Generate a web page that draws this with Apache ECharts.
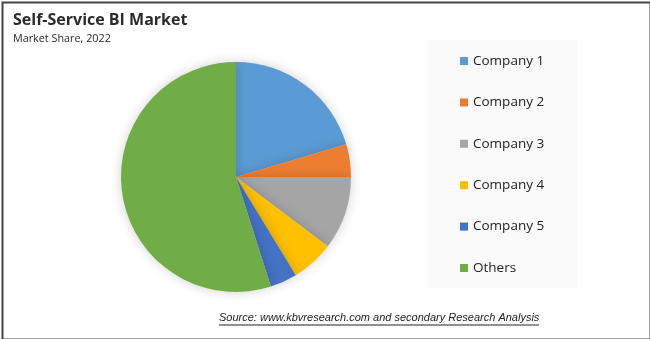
<!DOCTYPE html>
<html><head><meta charset="utf-8">
<script src="https://cdn.jsdelivr.net/npm/echarts@6/dist/echarts.min.js"></script>
<style>html,body{margin:0;padding:0;background:#fff;}#c{width:650px;height:339px;}</style>
</head><body><div id="c"></div>
<script>
const categories = ["Company 1","Company 2","Company 3","Company 4","Company 5","Others"];
const shares = [20.4, 4.6, 10.3, 6.0, 3.8, 54.9];
const colors = ["#5B9BD5","#ED7D31","#A5A5A5","#FFC000","#4472C4","#70AD47"];
const titleText = "Self-Service BI Market";
const subtitleText = "Market Share, 2022";
const sourceText = "Source: www.kbvresearch.com and secondary Research Analysis";

const chart = echarts.init(document.getElementById('c'), null, {renderer:'canvas'});
chart.setOption({
  animation:false,
  backgroundColor:'#fff',
  title:{
    text:titleText, subtext:subtitleText, left:8, top:7, itemGap:5,
    textStyle:{fontFamily:'Open Sans', fontWeight:'bold', fontSize:16, color:'#2a2a2a'},
    subtextStyle:{fontFamily:'Open Sans', fontSize:10.8, color:'#2a2a2a'}
  },
  graphic:[
    {type:'rect', left:427, top:40, shape:{width:150,height:248}, style:{fill:'#fafafa'}, z:-1},
    {type:'rect', left:0, top:0, shape:{width:648,height:337}, style:{fill:'none', stroke:'#444', lineWidth:2}, z:10},
    {type:'text', left:219, top:312, style:{text:sourceText, font:'italic 11px "Liberation Sans"', fill:'#222'}},
    {type:'line', shape:{x1:219,y1:325,x2:539,y2:325}, style:{stroke:'#222', lineWidth:1}}
  ],
  legend:{
    orient:'vertical', left:455, top:48, itemWidth:8, itemHeight:8, itemGap:25.4,
    icon:'rect',
    textStyle:{fontFamily:'Open Sans', fontSize:13.5, color:'#222', lineHeight:16},
    data:categories
  },
  series:[{
    type:'pie', center:[236,177], radius:115, startAngle:90, clockwise:true,
    label:{show:false}, labelLine:{show:false},
    itemStyle:{shadowBlur:12, shadowColor:'rgba(0,0,0,0.18)'},
    emphasis:{disabled:true},
    data:categories.map((n,i)=>({name:n, value:shares[i], itemStyle:{color:colors[i]}}))
  }]
});
</script></body></html>
